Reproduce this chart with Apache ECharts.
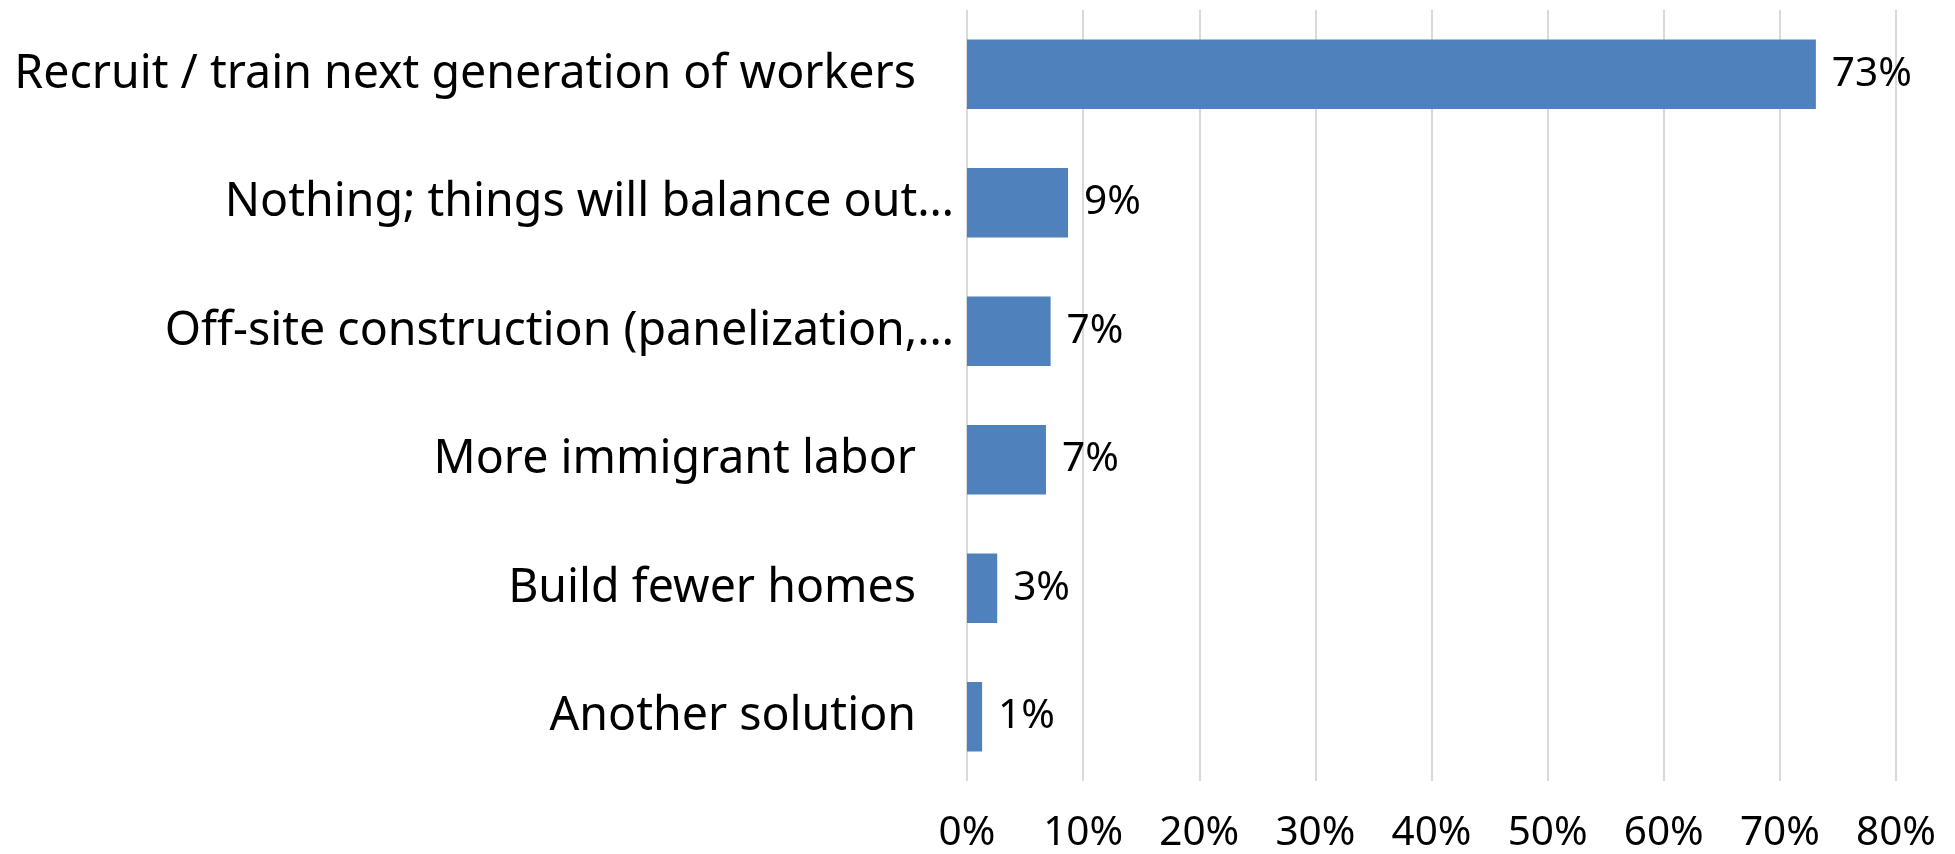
<!DOCTYPE html>
<html>
<head>
<meta charset="utf-8">
<script src="https://cdn.jsdelivr.net/npm/echarts@6/dist/echarts.min.js"></script>
<style>
  html, body { margin: 0; padding: 0; background: #ffffff; }
  #chart { width: 1955px; height: 854px; }
</style>
</head>
<body>
<div id="chart"></div>
<script>
// Survey answers, top to bottom
const categories = [
  "Recruit / train next generation of workers",
  "Nothing; things will balance out\u2026",
  "Off-site construction (panelization,\u2026",
  "More immigrant labor",
  "Build fewer homes",
  "Another solution"
];
// Share of respondents, percent
const shares = [73.1, 8.7, 7.2, 6.8, 2.6, 1.3];
// Value axis ticks, percent
const tickMin = 0;
const tickMax = 80;
const tickStep = 10;

const FONT = "Noto Sans";
const CAT_SIZE = 46.5; // category names
const NUM_SIZE = 40.5; // percentages
const chart = echarts.init(document.getElementById("chart"), null, { renderer: "canvas" });

chart.setOption({
  animation: false,
  backgroundColor: "#ffffff",
  grid: { left: 967, right: 59, top: 10, bottom: 71, containLabel: false },
  xAxis: {
    type: "value",
    min: tickMin,
    max: tickMax,
    interval: tickStep,
    axisLine: { show: false },
    axisTick: { show: false },
    splitLine: { show: true, lineStyle: { color: "#d9d9d9", width: 2 } },
    axisLabel: {
      formatter: "{value}%",
      color: "#000000",
      fontFamily: FONT,
      fontSize: NUM_SIZE,
      margin: 32
    }
  },
  yAxis: {
    type: "category",
    inverse: true,
    data: categories,
    axisLine: { show: false },
    axisTick: { show: false },
    axisLabel: {
      color: "#000000",
      fontFamily: FONT,
      fontSize: CAT_SIZE,
      margin: 13,
      // labels that fit are followed by trailing space; cut-off ones end at the ellipsis
      formatter: function (v) {
        return v.endsWith("\u2026") ? "{c|" + v + "}" : "{f|" + v + "}";
      },
      rich: {
        c: { fontFamily: FONT, fontSize: CAT_SIZE, color: "#000000" },
        f: { fontFamily: FONT, fontSize: CAT_SIZE, color: "#000000", padding: [0, 38, 0, 0] }
      }
    }
  },
  series: [{
    type: "bar",
    data: shares,
    barWidth: "54%",
    itemStyle: { color: "#4f81bd" },
    label: {
      show: true,
      position: "right",
      distance: 16,
      color: "#000000",
      fontFamily: FONT,
      fontSize: NUM_SIZE,
      formatter: function (p) { return Math.round(p.value) + "%"; }
    }
  }]
});
</script>
</body>
</html>
